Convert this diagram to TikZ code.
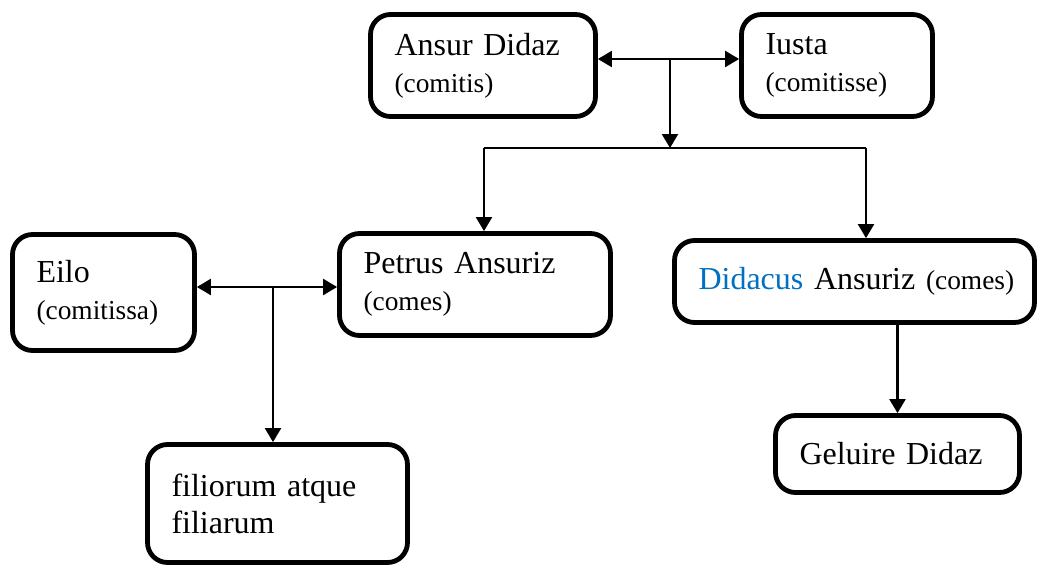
\documentclass[tikz,border=0pt]{standalone}
\usepackage{fontspec}
\setmainfont{Liberation Serif}
\usetikzlibrary{arrows.meta}
\definecolor{nameblue}{RGB}{0,112,192}
\newcommand{\role}[1]{{\fontsize{13.7}{18.5}\selectfont #1}}
\tikzset{person/.style={draw, line width=2.4pt, rounded corners=10pt, inner xsep=12pt, inner ysep=0pt, align=left, font=\fontsize{16}{18.5}\selectfont}}
\begin{document}
\begin{tikzpicture}[x=0.5pt, y=-0.5pt, >={Triangle[length=7pt,width=8pt]}, line width=1.1pt]
        \useasboundingbox (0,0) rectangle (1039,568);
        % persons
        \node [person, text width=88.5pt, minimum height=51pt] (ansur) at (483,65.5) {Ansur Didaz\\\role{(comitis)}};
        \node [person, text width=71.5pt, minimum height=51pt] (iusta) at (837,65.5) {Iusta\\\role{(comitisse)}};
        \node [person, text width=67pt, minimum height=58pt] (eilo) at (103.5,292.5) {Eilo\\\role{(comitissa)}};
        \node [person, text width=111.5pt, minimum height=51pt] (petrus) at (475,284.5) {Petrus Ansuriz\\\role{(comes)}};
        \node [person, text width=156pt, minimum height=41pt] (didacus) at (854.5,281.5) {\mbox{\textcolor{nameblue}{Didacus} Ansuriz \role{(comes)}}};
        \node [person, text width=98pt, minimum height=38.5pt] (geluire) at (897.5,454) {Geluire Didaz};
        \node [person, text width=106pt, minimum height=59pt] (fil) at (277.5,503.5) {filiorum atque\\filiarum};
        % joints
        \coordinate (wed1) at (670,59);
        \coordinate (barL) at (484,148);
        \coordinate (barR) at (866,148);
        \coordinate (wed2) at (273,287);
        \draw [<->] (ansur.east |- wed1) -- (iusta.west |- wed1);
        \draw [->] (wed1) -- (wed1 |- barL);
        \draw [line width=0.8pt] (barL) -- (barR);
        \draw [->] (barL) -- (barL |- petrus.north);
        \draw [->] (barR) -- (barR |- didacus.north);
        \draw [<->] (eilo.east |- wed2) -- (petrus.west |- wed2);
        \draw [->] (wed2) -- (wed2 |- fil.north);
        \draw [->] (didacus.south -| geluire.north) -- (geluire.north);
    \end{tikzpicture}
\end{document}
